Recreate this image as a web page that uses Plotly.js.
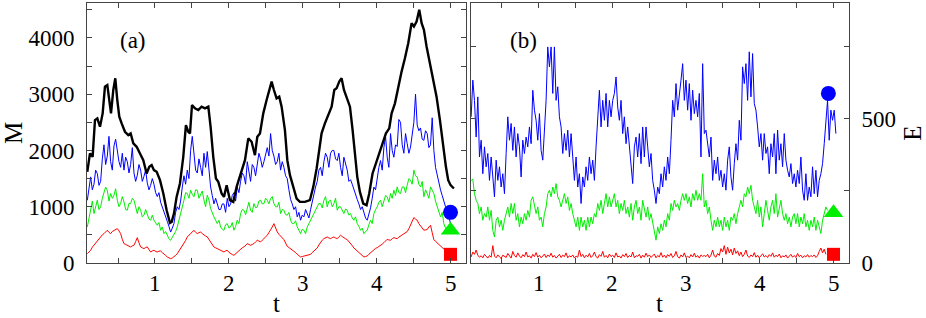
<!DOCTYPE html>
<html>
<head>
<meta charset="utf-8">
<script src="https://cdn.plot.ly/plotly-3.0.1.min.js"></script>
<style>html,body{margin:0;padding:0;background:#fff;}#chart{width:926px;height:318px;}</style>
</head>
<body>
<div id="chart"></div>
<script>
// ---------- Panel (a): M(t) ----------
const tBlack = [0.084,0.120,0.156,0.188,0.220,0.256,0.292,0.323,0.355,0.382,
0.405,0.436,0.463,0.490,0.517,0.549,0.594,0.639,0.671,0.707,
0.752,0.797,0.842,0.887,0.923,0.955,0.986,1.023,1.068,1.113,
1.158,1.203,1.226,1.257,1.293,1.338,1.383,1.419,1.451,1.474,
1.501,1.541,1.586,1.631,1.677,1.722,1.753,1.789,1.825,1.857,
1.902,1.934,1.970,2.015,2.060,2.105,2.150,2.218,2.263,2.308,
2.353,2.385,2.421,2.466,2.511,2.547,2.579,2.610,2.646,2.682,
2.714,2.759,2.791,2.827,2.872,2.917,2.962,3.030,3.097,3.143,
3.188,3.224,3.255,3.300,3.346,3.391,3.427,3.458,3.494,3.526,
3.558,3.594,3.639,3.675,3.706,3.738,3.774,3.819,3.864,3.900,
3.945,3.991,4.036,4.081,4.126,4.171,4.203,4.248,4.293,4.338,
4.383,4.428,4.473,4.505,4.541,4.577,4.609,4.640,4.676,4.721,
4.766,4.811,4.857,4.902,4.938,4.969,5.001,5.046];
const mBlack = [1620,1947,1887,2540,2570,2421,2659,3134,3163,2896,
2659,3074,3282,2896,2600,2481,2332,2273,2303,2125,
2065,1947,1828,1591,1709,1739,1650,1620,1472,1234,
938,712,730,878,1175,1413,1887,2451,2332,2303,
2807,2748,2718,2778,2748,2778,2421,1887,1502,1442,
1234,1175,1383,1116,1086,1353,1561,1828,2214,2154,
1917,2243,2303,2659,2896,3074,3223,3074,2926,2956,
2778,2362,1828,1561,1353,1145,1086,1086,1116,1353,
1680,2065,2303,2481,2629,2778,3074,3104,3223,3282,
3074,2956,2778,2362,1947,1531,1264,1056,1027,1234,
1591,1769,1917,2125,2303,2392,2659,2837,3134,3401,
3638,3905,4261,4202,4291,4499,4261,4143,3846,3549,
3312,2956,2540,2065,1709,1472,1383,1324];

// uniformly sampled series of panel (a): start time and sampling step
const tStartA = 0.0843, dtA = 0.02255;
const mBlue = [1115,1350,1530,1300,1400,1650,1590,1380,1450,1850,2100,1750,1900,2250,1800,1650,2080,2200,2000,1800,
1700,1950,1650,1880,1800,1600,1750,2050,1600,1450,1560,1750,1650,1450,1540,1650,1420,1300,1380,1500,
1400,1250,1180,1250,1080,1000,920,850,740,650,550,620,700,900,1000,950,1100,1350,1550,1400,
1650,1500,2000,2250,1900,1650,1600,1850,1700,1550,1950,1700,1980,1600,1350,1200,1050,1150,1050,950,
950,1050,1050,900,1150,1000,1050,1200,1250,1100,1350,1250,1450,1600,1550,1400,1800,1650,1450,1750,
1700,1550,1750,1950,1850,1700,1800,1950,2050,1900,2300,2000,1900,1750,1800,1950,1650,1800,1700,1550,
1500,1300,1130,1050,950,1000,820,900,760,850,820,950,880,800,950,1100,1230,1350,1450,1650,
1700,1550,1800,1950,1880,1700,1950,2000,2000,1850,1820,1950,1700,1550,1880,1750,1650,1450,1480,1400,
1300,1200,1130,1050,950,1000,880,800,760,850,980,1150,1350,1300,1520,1700,1820,1650,2050,2250,
1880,1700,2300,2000,1880,2100,2070,2550,2500,2100,1950,2300,2120,1950,2060,2300,2500,3000,2450,2350,
2400,2200,2180,2350,2300,2050,2100,2580,2000,1700,1550,1450,1300,1200,1100,1000,950,800,700];
const mGreen = [640,820,997,1100,878,1000,1116,950,997,1150,1234,1350,1290,1100,1234,1150,1205,1320,1116,1000,
1056,1180,1086,950,938,1060,1056,1150,1116,980,878,1000,938,820,849,950,878,780,760,850,
760,700,670,720,582,640,522,560,493,430,404,450,493,560,641,760,849,950,1116,1250,
1234,1150,1294,1220,1175,1300,1294,1150,1205,1280,1116,1000,1205,1120,967,880,819,760,700,760,
641,600,582,680,700,620,641,720,582,650,760,700,878,950,938,860,997,1080,938,900,
1056,980,997,1100,1116,1050,1056,1150,1116,1050,1145,1180,1056,1000,997,1080,878,950,938,860,
849,900,760,700,700,750,641,580,522,600,582,520,641,700,760,820,878,950,997,1060,
1056,980,1116,1180,997,1100,1116,1000,1056,1150,938,1000,997,920,878,960,938,850,878,800,
760,820,700,650,582,620,522,560,582,680,760,700,878,950,997,1080,1116,1000,1116,1200,
1175,1080,1234,1150,1294,1200,1353,1250,1234,1350,1353,1250,1383,1500,1472,1400,1650,1550,1531,1400,
1353,1450,1175,1300,1234,1150,1353,1280,1234,1100,997,900,819,900,700,620,582,650,522];
const mRed = [166,195,226,280,315,360,404,440,463,500,522,560,582,545,522,560,582,600,611,570,
522,420,344,330,315,300,285,305,315,380,450,360,285,270,255,275,285,240,196,215,
226,205,196,210,214,185,166,135,107,90,77,90,107,135,166,210,255,300,344,400,
463,490,522,555,582,545,522,540,552,520,493,480,463,415,374,330,285,270,255,240,
226,210,196,215,226,190,166,150,137,165,196,225,255,270,285,320,344,330,315,330,
344,375,404,390,374,405,433,460,493,540,582,640,700,620,552,510,475,445,415,355,
297,275,255,235,214,185,154,130,107,115,125,130,137,145,154,185,214,240,267,320,
374,405,433,450,463,445,433,450,463,445,433,465,493,470,445,430,415,385,356,310,
267,240,214,185,154,130,107,115,125,155,184,215,243,260,273,290,303,335,362,390,
421,410,404,430,451,440,433,460,481,495,510,535,558,610,671,740,807,780,760,700,
653,615,582,590,594,640,671,540,415,385,356,325,297,270,243,215,184,165,154];

// end-point symbols, panel (a)
const symTA = [5.0, 5.0, 5.0];
const symMA = [900, 580, 154];

// ---------- Panel (b): E(t) ----------
const tStartB = 0.0825, dtB = 0.0226;
const eBlue = [506,633,563,436,575,367,425,309,402,333,379,286,367,309,229,356,286,333,263,309,
240,379,506,425,483,390,471,367,448,402,298,425,379,436,402,471,413,598,529,494,
425,517,390,356,471,563,748,679,748,587,748,563,610,506,471,379,448,390,460,367,
448,344,286,367,263,309,206,298,263,333,286,367,309,356,286,402,506,598,471,563,
494,587,471,563,506,563,587,644,540,494,563,448,506,413,471,402,333,275,402,436,
367,448,344,471,367,471,402,333,379,286,252,206,263,240,309,263,333,286,367,309,
425,563,506,621,529,575,633,690,563,633,529,621,494,598,517,563,506,587,367,690,
448,460,413,367,436,286,356,309,367,286,321,263,309,252,356,402,298,252,344,413,
356,494,425,679,621,690,563,731,575,725,552,529,471,402,448,356,448,379,402,309,
413,367,448,309,460,356,413,333,448,356,321,298,344,275,309,263,321,275,367,252,
217,309,217,263,229,333,240,321,229,286,309,344,413,494,563,425,529,494,529,448];
const eGreen = [286,290,240,217,206,171,194,148,171,159,194,148,182,113,90,148,159,125,148,113,
148,171,194,159,206,171,206,148,171,125,159,136,171,148,182,159,217,229,194,171,
194,148,159,125,171,194,240,252,229,263,240,275,229,217,194,217,240,206,229,182,
206,171,148,125,159,113,159,125,148,113,159,125,159,136,171,159,206,182,217,171,
206,240,194,229,194,217,240,194,217,171,206,182,217,171,194,159,206,148,194,217,
171,194,148,217,182,159,194,148,171,136,102,79,125,102,136,113,148,125,171,148,
206,182,217,194,206,182,217,240,217,240,206,229,194,240,217,252,217,240,217,309,
194,217,171,194,148,113,148,125,159,125,148,113,159,125,148,113,159,148,171,136,
171,194,217,194,240,229,263,240,269,217,194,171,217,159,194,125,171,217,182,148,
194,217,171,240,159,194,217,171,148,171,136,159,125,159,171,136,171,125,159,136,
171,125,148,113,148,125,159,113,148,125,102,148,171,194,182];
const eRed = [21,38,30,45,27,20,25,18,30,22,17,26,20,60,24,18,28,21,16,27,
22,19,33,24,17,40,26,20,35,24,18,29,22,38,21,25,17,30,22,36,
20,27,18,24,31,19,28,22,34,20,26,17,23,30,19,27,22,35,18,25,
21,28,17,24,20,45,22,30,18,27,21,33,19,25,38,22,17,29,23,40,
20,26,18,31,22,27,19,35,21,24,17,29,22,33,19,26,21,38,18,25,
23,30,17,27,20,34,22,28,19,24,31,18,26,21,36,20,27,18,29,23,
33,19,25,40,22,17,28,21,35,19,24,18,29,21,34,20,26,17,28,23,
26,22,30,18,27,45,24,20,33,26,50,38,60,30,55,35,48,28,52,33,
42,25,38,22,30,45,24,19,28,22,36,20,27,18,25,32,21,26,19,29,
23,35,20,27,22,31,18,25,21,28,17,24,30,20,26,19,33,22,27,18,
25,21,29,20,26,22,28,19,25,40,52,35,48,30];

// end-point symbols, panel (b)
const symTB = [4.93, 5.0, 5.0];
const symEB = [587, 174, 30];

// tick labels and axis titles
const xTickVals = [0.5,1,1.5,2,2.5,3,3.5,4,4.5,5];
const xTickText = ['','1','','2','','3','','4','','5'];
const yTickValsA = [0,500,1000,1500,2000,2500,3000,3500,4000,4500];
const yTickTextA = ['0','','1000','','2000','','3000','','4000',''];
const yTickValsB = [0,250,500,750];
const yTickTextB = ['0','','500',''];
const xTitle = 't', yTitleA = 'M', yTitleB = 'E';

function grid(t0, dt, n){ const a=[]; for(let i=0;i<n;i++) a.push(+(t0+i*dt).toFixed(4)); return a; }

const BLUE='#0000ff', GREEN='#00ee00', RED='#ff0000';
const thin = c => ({color:c, width:1});
const symMarker = {color:[BLUE,GREEN,RED], symbol:['circle','triangle-up','square'],
                   size:[15,17,13], opacity:1, line:{width:0}};

const traces = [
  {x:grid(tStartA,dtA,mRed.length), y:mRed, mode:'lines', line:thin(RED), xaxis:'x', yaxis:'y'},
  {x:grid(tStartA,dtA,mGreen.length), y:mGreen, mode:'lines', line:thin(GREEN), xaxis:'x', yaxis:'y'},
  {x:grid(tStartA,dtA,mBlue.length), y:mBlue, mode:'lines', line:thin(BLUE), xaxis:'x', yaxis:'y'},
  {x:tBlack, y:mBlack, mode:'lines', line:{color:'#000', width:2.4}, xaxis:'x', yaxis:'y'},
  {x:symTA, y:symMA, mode:'markers', xaxis:'x', yaxis:'y', opacity:1, marker:symMarker},
  {x:grid(tStartB,dtB,eRed.length), y:eRed, mode:'lines', line:thin(RED), xaxis:'x2', yaxis:'y2'},
  {x:grid(tStartB,dtB,eGreen.length), y:eGreen, mode:'lines', line:thin(GREEN), xaxis:'x2', yaxis:'y2'},
  {x:grid(tStartB,dtB,eBlue.length), y:eBlue, mode:'lines', line:thin(BLUE), xaxis:'x2', yaxis:'y2'},
  {x:symTB, y:symEB, mode:'markers', xaxis:'x2', yaxis:'y2', opacity:1, marker:symMarker}
];

const FONT = 'Liberation Serif';
const axBase = {
  showgrid:false, zeroline:false, showline:true, linecolor:'#444', linewidth:1,
  ticks:'inside', ticklen:5, tickcolor:'#444', mirror:'ticks',
  tickfont:{family:FONT, size:23, color:'#000'}
};

// x tick labels and x titles drawn as text placed on the x scales
const xTextAnn = [];
['x','x2'].forEach(xr => {
  xTickVals.forEach((v,i) => {
    if (xTickText[i]) xTextAnn.push({text:xTickText[i], xref:xr, yref:'paper', x:v, y:0,
      yanchor:'middle', xanchor:'center', yshift:-20, showarrow:false,
      font:{family:FONT, size:23, color:'#000'}});
  });
  xTextAnn.push({text:xTitle, xref:xr+' domain', yref:'paper', x:0.5, y:0,
    yanchor:'middle', xanchor:'center', yshift:-40, borderpad:0, showarrow:false,
    font:{family:FONT, size:25, color:'#000'}});
});

const layout = {
  width:926, height:318,
  margin:{l:87, r:77, t:3, b:55},
  paper_bgcolor:'#fff', plot_bgcolor:'#fff',
  showlegend:false,
  font:{family:FONT, color:'#000'},
  xaxis:Object.assign({}, axBase, {domain:[0,0.4974], range:[0.08,5.21], anchor:'y',
    tickmode:'array', tickvals:xTickVals, showticklabels:false}),
  yaxis:Object.assign({}, axBase, {range:[0,4620], anchor:'x',
    tickmode:'array', tickvals:yTickValsA, ticktext:yTickTextA, ticklabelstandoff:7,
    title:{text:yTitleA, font:{family:FONT, size:25}, standoff:6}}),
  xaxis2:Object.assign({}, axBase, {domain:[0.5039,1], range:[0.08,5.21], anchor:'y2',
    tickmode:'array', tickvals:xTickVals, showticklabels:false}),
  yaxis2:Object.assign({}, axBase, {range:[0,900], anchor:'x2', side:'right',
    tickmode:'array', tickvals:yTickValsB, ticktext:yTickTextB, ticklabelstandoff:7,
    title:{text:yTitleB, font:{family:FONT, size:25}, standoff:8}}),
  annotations:[
    {text:'(a)', xref:'paper', yref:'paper', x:0.0604, y:0.855, showarrow:false,
     font:{family:FONT, size:23}, xanchor:'center', yanchor:'middle'},
    {text:'(b)', xref:'paper', yref:'paper', x:0.5722, y:0.855, showarrow:false,
     font:{family:FONT, size:23}, xanchor:'center', yanchor:'middle'}
  ].concat(xTextAnn)
};

Plotly.newPlot('chart', traces, layout, {staticPlot:true, displayModeBar:false});
</script>
</body>
</html>
